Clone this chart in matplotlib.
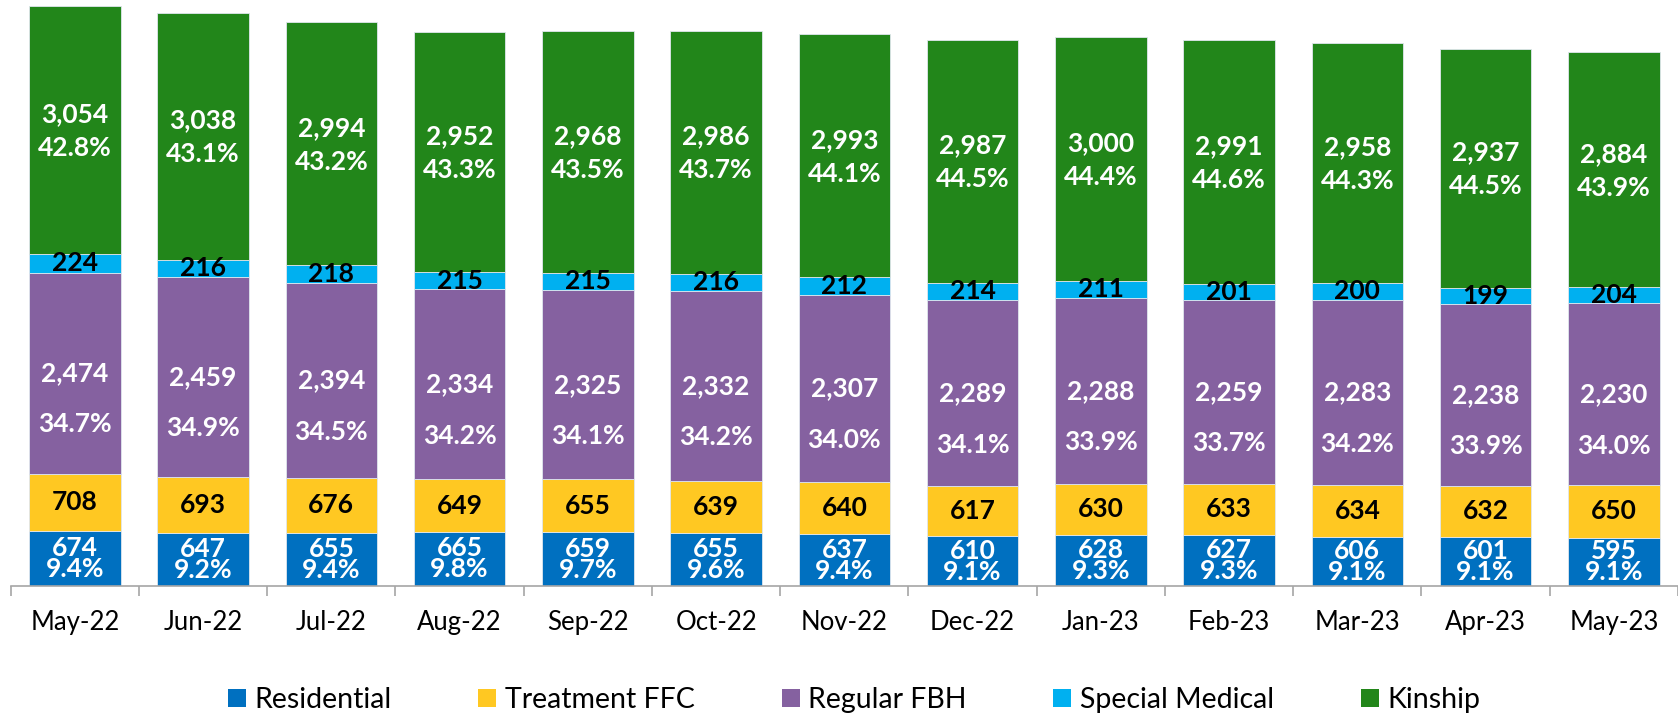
import matplotlib
matplotlib.use("Agg")
import matplotlib.pyplot as plt
import numpy as np
from matplotlib.patches import Patch

plt.rcParams['font.family'] = ['Lato', 'DejaVu Sans']

months = ["May-22", "Jun-22", "Jul-22", "Aug-22", "Sep-22", "Oct-22", "Nov-22",
          "Dec-22", "Jan-23", "Feb-23", "Mar-23", "Apr-23", "May-23"]
residential = [674, 647, 655, 665, 659, 655, 637, 610, 628, 627, 606, 601, 595]
treatment_ffc = [708, 693, 676, 649, 655, 639, 640, 617, 630, 633, 634, 632, 650]
regular_fbh = [2474, 2459, 2394, 2334, 2325, 2332, 2307, 2289, 2288, 2259, 2283, 2238, 2230]
special_medical = [224, 216, 218, 215, 215, 216, 212, 214, 211, 201, 200, 199, 204]
kinship = [3054, 3038, 2994, 2952, 2968, 2986, 2993, 2987, 3000, 2991, 2958, 2937, 2884]
residential_pct = ["9.4%", "9.2%", "9.4%", "9.8%", "9.7%", "9.6%", "9.4%", "9.1%", "9.3%", "9.3%", "9.1%", "9.1%", "9.1%"]
regular_fbh_pct = ["34.7%", "34.9%", "34.5%", "34.2%", "34.1%", "34.2%", "34.0%", "34.1%", "33.9%", "33.7%", "34.2%", "33.9%", "34.0%"]
kinship_pct = ["42.8%", "43.1%", "43.2%", "43.3%", "43.5%", "43.7%", "44.1%", "44.5%", "44.4%", "44.6%", "44.3%", "44.5%", "43.9%"]

series = ["Residential", "Treatment FFC", "Regular FBH", "Special Medical", "Kinship"]
colors = ["#0070C0", "#FFC822", "#8561A0", "#00B0F0", "#22861A"]

fig = plt.figure(figsize=(16.78, 7.15), dpi=100)
ax = fig.add_axes([10.7 / 1678, 129 / 715, 1 - 10.7 / 1678, 586 / 715])

x = np.arange(len(months))
w = 0.713
data = [residential, treatment_ffc, regular_fbh, special_medical, kinship]
bottom = np.zeros(len(months))
bars = []
for vals, c in zip(data, colors):
    v = np.array(vals, dtype=float)
    ax.bar(x, v, w, bottom=bottom, color=c, edgecolor="#dfe6ee", linewidth=0.6)
    bars.append((v, bottom.copy()))
    bottom = bottom + v

ax.set_xlim(-0.5, 12.333)
ax.set_ylim(0, 7208)

fs = 19
kw = dict(textcoords="offset points", ha="center", va="center",
          fontweight="bold", fontsize=fs)
for i in range(len(months)):
    # Residential
    v, b0 = bars[0]
    cy = b0[i] + v[i] / 2
    ax.annotate(f"{int(v[i]):,}", (i, cy), xytext=(0, 7.6), color="white", **kw)
    ax.annotate(residential_pct[i], (i, cy), xytext=(0, -7.5), color="white", **kw)
    # Treatment FFC
    v, b0 = bars[1]
    cy = b0[i] + v[i] / 2
    ax.annotate(f"{int(v[i]):,}", (i, cy), xytext=(0, 0), color="black", **kw)
    # Regular FBH
    v, b0 = bars[2]
    cy = b0[i] + v[i] / 2
    ax.annotate(f"{int(v[i]):,}", (i, cy), xytext=(0, 0), color="white", **kw)
    ax.annotate(regular_fbh_pct[i], (i, cy), xytext=(0, -37), color="white", **kw)
    # Special Medical
    v, b0 = bars[3]
    cy = b0[i] + v[i] / 2
    ax.annotate(f"{int(v[i]):,}", (i, cy), xytext=(0, 0), color="black", **kw)
    # Kinship
    v, b0 = bars[4]
    cy = b0[i] + v[i] / 2
    ax.annotate(f"{int(v[i]):,}", (i, cy), xytext=(0, 11.5), color="white", **kw)
    ax.annotate(kinship_pct[i], (i, cy), xytext=(0, -13), color="white", **kw)

for s in ["top", "right", "left"]:
    ax.spines[s].set_visible(False)
ax.spines["bottom"].set_color("#a6a6a6")
ax.spines["bottom"].set_linewidth(1.2)
ax.set_yticks([])
ax.set_xticks(x)
ax.set_xticklabels(months, fontsize=18.5, color="black")
ax.tick_params(axis="x", which="major", length=0, pad=17)
ax.set_xticks(np.arange(-0.5, 12.6, 1), minor=True)
ax.tick_params(axis="x", which="minor", length=7, width=1.2, color="#a6a6a6")

handles = [Patch(facecolor=c, edgecolor="none") for c in colors]
fig.legend(handles, series, loc="center", bbox_to_anchor=(0.509, 0.021), ncol=5,
           frameon=False, fontsize=20.5, handlelength=0.63, handleheight=0.63,
           handletextpad=0.3, columnspacing=3.05, labelcolor="black",
           borderpad=0, borderaxespad=0)

fig.savefig("out.png", dpi=100)
